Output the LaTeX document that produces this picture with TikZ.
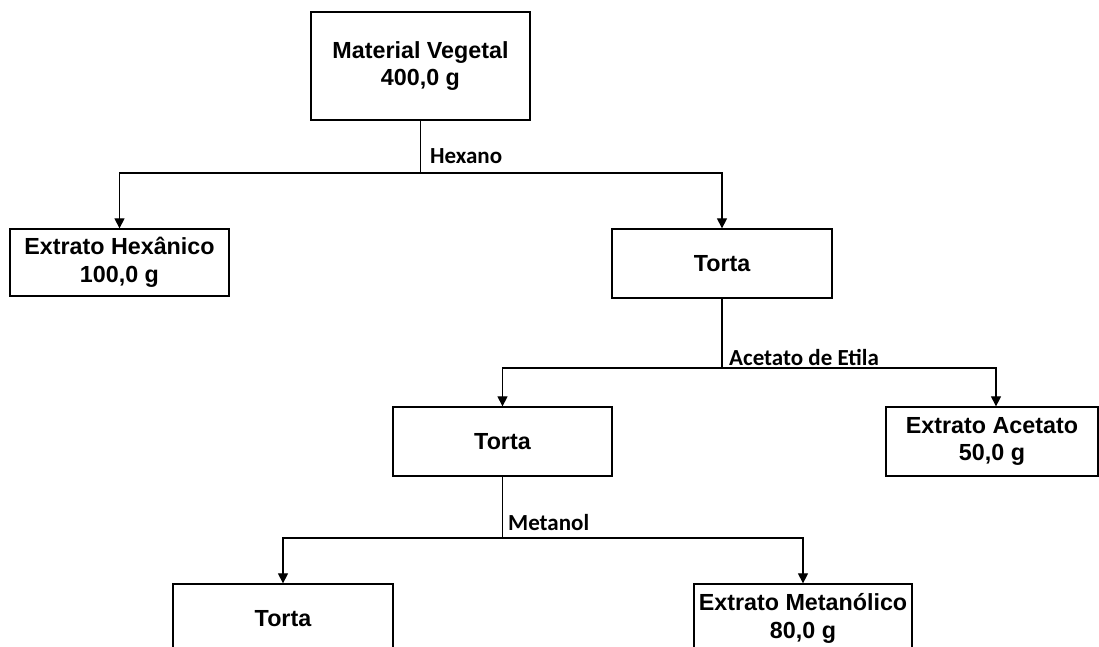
\documentclass[tikz,border=0pt]{standalone}
\usepackage{fontspec}
\setmainfont{Liberation Sans}
\newfontfamily\calib{Carlito}
\usetikzlibrary{arrows.meta}
\begin{document}
\begin{tikzpicture}[x=1pt,y=-1pt,
  boxnode/.style={draw=black, line width=1.3pt, inner sep=0pt, align=center,
    font=\bfseries\fontsize{23.3}{27.5}\selectfont, fill=white},
  conn/.style={line width=1.2pt, draw=black},
  arr/.style={conn, -{Triangle[length=10pt,width=10pt]}},
  solv/.style={anchor=base west, inner sep=0pt, font=\calib\bfseries\fontsize{23}{27}\selectfont}
]
\useasboundingbox (0,0) rectangle (1099,646);
\clip (0,0) rectangle (1099,646);
\fill[white] (0,0) rectangle (1099,646);

\node[boxnode, minimum width=219pt, minimum height=108pt] (mv) at (420.5,66) {Material Vegetal\\400,0 g};
\node[boxnode, minimum width=219pt, minimum height=67pt] (eh) at (119.5,262.5) {Extrato Hexânico\\100,0 g};
\node[boxnode, minimum width=220pt, minimum height=69pt] (t1) at (722,263.5) {Torta};
\node[boxnode, minimum width=219pt, minimum height=69pt] (t2) at (502.5,441.5) {Torta};
\node[boxnode, minimum width=212pt, minimum height=69pt] (ea) at (992,441.5) {Extrato Acetato\\50,0 g};
\node[boxnode, minimum width=220pt, minimum height=69pt] (t3) at (283,618.5) {Torta};
\node[boxnode, minimum width=218pt, minimum height=69pt] (em) at (803,618.5) {Extrato Metanólico\\80,0 g};

% Hexano
\draw[conn] (mv.south) -- (mv.south |- 0,173) coordinate (j1);
\draw[arr] (j1) -| (eh.north);
\draw[arr] (j1) -| (t1.north);
\node[solv] (lh) at (430,163) {Hexano};

% Acetato de Etila
\draw[conn] (t1.south) -- (t1.south |- 0,368) coordinate (j2);
\draw[arr] (j2) -| (t2.north);
\draw[arr] (j2) -| ([xshift=4pt]ea.north);
\node[solv] (la) at (729,365) {Acetato de Etila};

% Metanol
\draw[conn] (t2.south) -- (t2.south |- 0,538) coordinate (j3);
\draw[arr] (j3) -| (t3.north);
\draw[arr] (j3) -| (em.north);
\node[solv] (lm) at (508,530) {Metanol};
\end{tikzpicture}
\end{document}
